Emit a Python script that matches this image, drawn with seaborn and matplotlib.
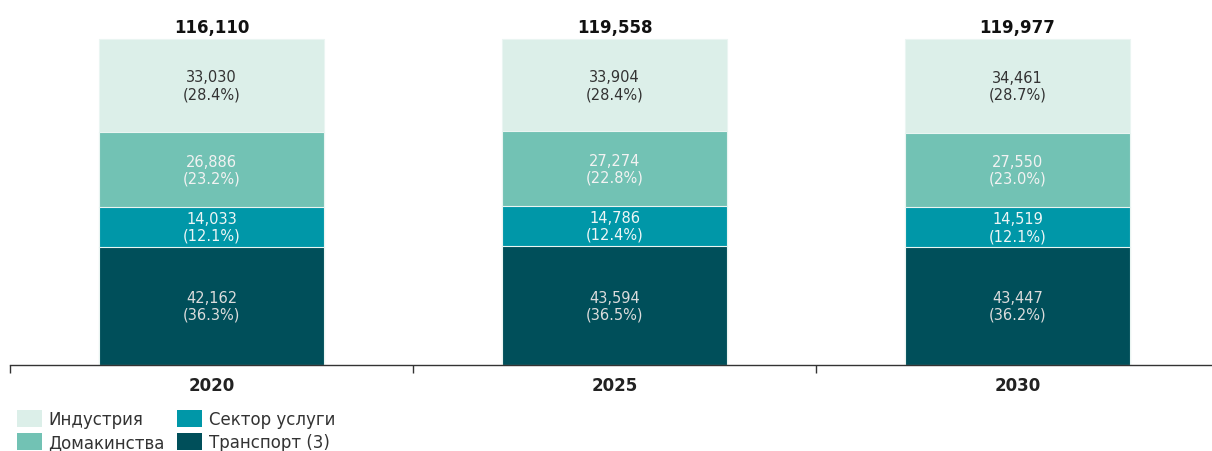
import numpy as np
import pandas as pd
import matplotlib
matplotlib.use("Agg")
import matplotlib.pyplot as plt
from matplotlib.patches import Patch
import seaborn as sns

# Energy consumption by sector (values and year categories)
years = ["2020", "2025", "2030"]
industry = [33030, 33904, 34461]
households = [26886, 27274, 27550]
services = [14033, 14786, 14519]
transport = [42162, 43594, 43447]
totals = [116110, 119558, 119977]

sector_names = ["Индустрия", "Домакинства", "Сектор услуги", "Транспорт (3)"]
sector_colors = ["#dcefe9", "#72c2b4", "#0097a8", "#004f5a"]

sns.set_theme(style="white")
plt.rcParams["font.family"] = ["DejaVu Sans"]

W, H = 1212, 452
fig = plt.figure(figsize=(W / 100, H / 100), dpi=100)
ax = fig.add_axes([10 / W, 86 / H, 1209 / W, 366 / H])

# stacking order from the bottom: transport, services, households, industry
stack = [transport, services, households, industry]
stack_colors = ["#004f5a", "#0097a8", "#72c2b4", "#dcefe9"]
stack_text = ["#dcdcdc", "#eef6f6", "#f2f2f2", "#333333"]

arr = np.array(stack, dtype=float)
share = arr / arr.sum(axis=0) * 100
cum = np.cumsum(share, axis=0)

# 100% stacked bars: cumulative shares drawn tallest first so each layer covers the next
for i in range(len(stack) - 1, -1, -1):
    df = pd.DataFrame({"year": years, "value": cum[i]})
    sns.barplot(data=df, x="year", y="value", color=stack_colors[i],
                saturation=1, width=0.56, edgecolor="#eaf5f2", linewidth=0.8,
                ax=ax, errorbar=None)

# value and share labels in each segment
for i in range(len(stack)):
    for j in range(len(years)):
        mid = cum[i][j] - share[i][j] / 2
        ax.text(j, mid, f"{int(arr[i][j]):,}\n({share[i][j]:.1f}%)",
                ha="center", va="center", fontsize=10.5,
                color=stack_text[i], linespacing=1.15)

# totals above bars
for j in range(len(years)):
    ax.text(j, 103.7, f"{totals[j]:,}", ha="center",
            va="center", fontsize=12, fontweight="bold", color="#111111")

ax.set_xlim(-0.5, 2.5)
ax.set_ylim(0, 112.27)
ax.set_xlabel("")
ax.set_ylabel("")
ax.set_yticks([])
for s in ["top", "right", "left"]:
    ax.spines[s].set_visible(False)
ax.spines["bottom"].set_color("#333333")
ax.spines["bottom"].set_linewidth(1.0)

ax.set_xticks(range(len(years)))
ax.set_xticklabels(years, fontsize=12, fontweight="bold", color="#222222")
ax.tick_params(axis="x", which="major", length=0, pad=8)
ax.set_xticks([-0.5, 0.5, 1.5, 2.5], minor=True)
ax.tick_params(axis="x", which="minor", length=6, width=1.0,
               color="#333333", direction="out", bottom=True)

handles = [Patch(facecolor=c, edgecolor="none") for c in sector_colors]
fig.legend(handles, sector_names, loc="lower left",
           bbox_to_anchor=(10 / W, -7 / H), ncol=2, frameon=False,
           fontsize=12, handlelength=1.5, handleheight=1.2,
           handletextpad=0.4, columnspacing=0.75, labelspacing=0.3,
           labelcolor="#333333", borderaxespad=0)

fig.savefig("out.png", dpi=100)
